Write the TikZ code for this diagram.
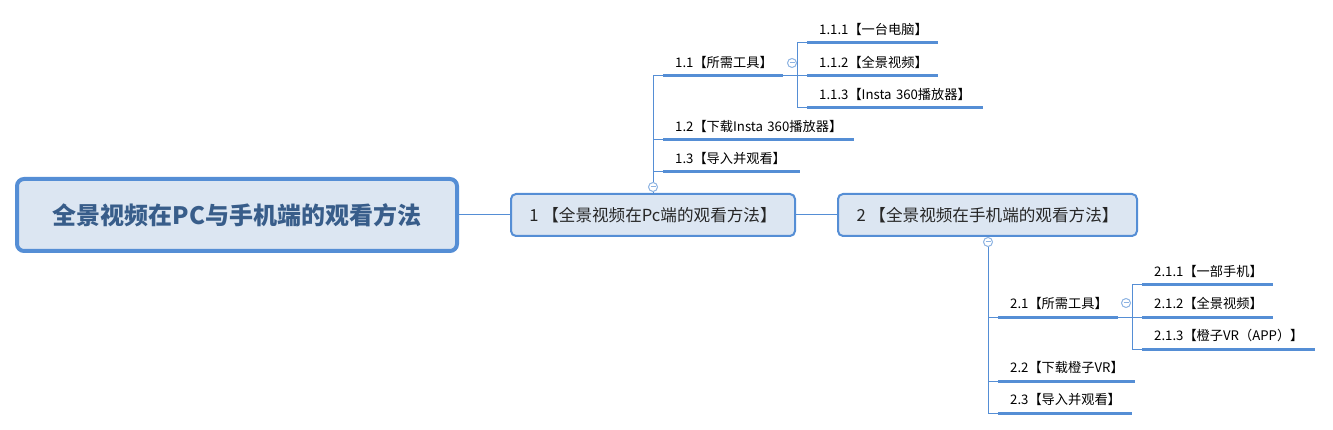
\documentclass[tikz,border=0pt]{standalone}
\usepackage{fontspec}
\setmainfont{Noto Sans CJK SC}
\usepackage{xcolor}
\usepackage{tikz}

\definecolor{linec}{RGB}{85,142,213}
\definecolor{boxfill}{RGB}{220,230,242}
\definecolor{roottext}{RGB}{56,93,138}
\definecolor{foldc}{RGB}{141,179,226}
\definecolor{textc}{RGB}{38,38,38}

\tikzset{
  topic/.style={draw=linec, fill=boxfill, line width=2pt, rounded corners=5pt,
    text=textc, font=\fontsize{16.6}{20}\selectfont, inner sep=0pt},
  leaf/.style={anchor=south west, text width=#1-24pt, align=left, inner xsep=12pt,
    inner ysep=0pt, minimum height=27pt, text=black, font=\fontsize{13.2}{16}\selectfont},
  uline/.style={draw=linec, line width=3pt},
  link/.style={draw=linec, line width=1pt},
  fold/.style={circle, draw=foldc, fill=white, line width=1pt, minimum size=9pt, inner sep=0pt,
    path picture={\draw[foldc, line width=1pt] ([xshift=-2.5pt]path picture bounding box.center)
      -- ([xshift=2.5pt]path picture bounding box.center);}}
}

\begin{document}
\begin{tikzpicture}[x=1pt, y=-1pt]
    \useasboundingbox (0,0) rectangle (1333,430);
    % central topic and main topics
    \node[topic, line width=4pt, rounded corners=7pt, minimum width=440pt, minimum height=72pt,
      text=roottext, font=\fontsize{24}{28}\selectfont\bfseries] (root) at (237,215) {全景视频在PC与手机端的观看方法};
    \node[topic, minimum width=284pt, minimum height=42pt] (pc) at (653,215) {1 【全景视频在Pc端的观看方法】};
    \node[topic, minimum width=299pt, minimum height=42pt] (phone) at (987.5,215) {2 【全景视频在手机端的观看方法】};
    \draw[link] (root.east) -- (pc.west);
    \draw[link] (pc.east) -- (phone.west);

    % branch 1
    \node[leaf=120pt] (pctools) at (663,75.7) {1.1【所需工具】};
    \node[leaf=191pt] (pcget) at (663,140) {1.2【下载Insta~360播放器】};
    \node[leaf=137pt] (pcview) at (663,172) {1.3【导入并观看】};
    \node[leaf=131pt] (pcpc) at (807,43) {1.1.1【一台电脑】};
    \node[leaf=131pt] (pcvideo) at (807,75.7) {1.1.2【全景视频】};
    \node[leaf=176pt] (pcplayer) at (807,108) {1.1.3【Insta~360播放器】};
    \node[fold] (pcfold) at (653,187) {};
    \node[fold] (pctoolsfold) at (792,63) {};
    \draw[link] (pc.north) -- (pcfold.south);
    \draw[link] (pcfold.north) |- (pctools.south west);
    \draw[link] (pcfold.north) |- (pcget.south west);
    \draw[link] (pcfold.north) |- (pcview.south west);
    \coordinate (pcjoin) at (797,75.7);
    \draw[link] (pctools.south east) -- (pcvideo.south west);
    \draw[link] (pcjoin) |- (pcpc.south west);
    \draw[link] (pcjoin) |- (pcplayer.south west);

    % branch 2
    \node[leaf=120pt] (phtools) at (998,317) {2.1【所需工具】};
    \node[leaf=137pt] (phget) at (998,381) {2.2【下载橙子VR】};
    \node[leaf=134pt] (phview) at (998,413) {2.3【导入并观看】};
    \node[leaf=131pt] (phphone) at (1142,285) {2.1.1【一部手机】};
    \node[leaf=131pt] (phvideo) at (1142,317) {2.1.2【全景视频】};
    \node[leaf=173pt] (phapp) at (1142,349) {2.1.3【橙子VR（APP）】};
    \node[fold] (phfold) at (988,242) {};
    \node[fold] (phtoolsfold) at (1126,303) {};
    \draw[link] (phone.south -| phfold) -- (phfold.north);
    \draw[link] (phfold.south) |- (phtools.south west);
    \draw[link] (phfold.south) |- (phget.south west);
    \draw[link] (phfold.south) |- (phview.south west);
    \coordinate (phjoin) at (1132,317);
    \draw[link] (phtools.south east) -- (phvideo.south west);
    \draw[link] (phjoin) |- (phphone.south west);
    \draw[link] (phjoin) |- (phapp.south west);

    % underlines
    \foreach \n in {pctools,pcget,pcview,pcpc,pcvideo,pcplayer,phtools,phget,phview,phphone,phvideo,phapp}
      \draw[uline] (\n.south west) -- (\n.south east);
    \end{tikzpicture}
\end{document}
